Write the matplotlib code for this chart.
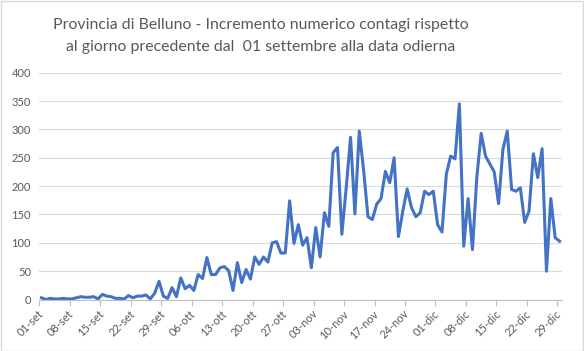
import matplotlib.pyplot as plt
from matplotlib.patches import Rectangle
import numpy as np

plt.rcParams['font.family'] = ['Lato', 'DejaVu Sans']

# daily increase of cases, 01-set .. 29-dic
sep_values = [3, 0, 2, 1, 1, 2, 1, 1, 3, 5, 4, 4, 5, 1, 9, 6, 5, 2, 2, 1,
              7, 3, 6, 6, 8, 1, 11, 32, 6, 2]
oct_values = [21, 5, 38, 19, 25, 16, 44, 37, 74, 44, 44, 56, 58, 51, 16, 65,
              30, 53, 36, 75, 62, 75, 66, 100, 102, 82, 82, 174, 99, 132, 96]
nov_values = [109, 56, 127, 75, 153, 129, 259, 268, 115, 197, 286, 151, 297,
              228, 146, 141, 168, 178, 226, 206, 250, 111, 156, 195, 162, 146,
              153, 191, 185, 191]
dec_values = [132, 119, 221, 253, 248, 345, 94, 178, 88, 215, 293, 253, 239,
              225, 169, 265, 297, 194, 191, 197, 136, 156, 257, 215, 266, 50,
              178, 109, 103]
values = np.array(sep_values + oct_values + nov_values + dec_values)

tick_labels = ['01-set', '08-set', '15-set', '22-set', '29-set', '06-ott',
               '13-ott', '20-ott', '27-ott', '03-nov', '10-nov', '17-nov',
               '24-nov', '01-dic', '08-dic', '15-dic', '22-dic', '29-dic']

title_1 = 'Provincia di Belluno - Incremento numerico contagi rispetto'
title_2 = 'al giorno precedente dal  01 settembre alla data odierna'

grey_text = '#595959'

fig = plt.figure(figsize=(5.84, 3.51), dpi=100)
ax = fig.add_axes([0.0673, 0.1467, 0.8945, 0.6462])

x = np.arange(len(values))
ax.plot(x, values, color='#4472C4', linewidth=2.2, solid_joinstyle='round')

ax.set_xlim(-0.5, len(values) - 0.5)
ax.set_ylim(0, 400)
ax.set_yticks(np.arange(0, 401, 50))

# tick marks sit between categories, labels sit on the categories
label_pos = np.arange(0, len(values), 7)
ax.set_xticks(label_pos - 0.5)
ax.set_xticklabels([])
ax.set_xticks(label_pos, minor=True)
ax.set_xticklabels(tick_labels, minor=True, rotation=45, ha='right',
                   va='center', rotation_mode='anchor', fontsize=8,
                   color=grey_text)
ax.tick_params(axis='x', which='major', length=4, color='#BFBFBF', width=0.8)
ax.tick_params(axis='x', which='minor', length=0, pad=9)
ax.tick_params(axis='y', length=0, labelsize=8, labelcolor=grey_text, pad=6)

ax.grid(axis='y', color='#D9D9D9', linewidth=0.8)
ax.set_axisbelow(True)
for side in ['left', 'right', 'top']:
    ax.spines[side].set_visible(False)
ax.spines['bottom'].set_color('#BFBFBF')
ax.spines['bottom'].set_linewidth(0.8)

fig.text(0.447, 0.929, title_1, ha='center', va='center', fontsize=11.4,
         color=grey_text)
fig.text(0.447, 0.866, title_2, ha='center', va='center', fontsize=11.4,
         color=grey_text)

fig.patches.append(Rectangle((0.001, 0.001), 0.997, 0.997, transform=fig.transFigure,
                             fill=False, edgecolor='#D9D9D9', linewidth=1))

fig.savefig('out.png', dpi=100)
